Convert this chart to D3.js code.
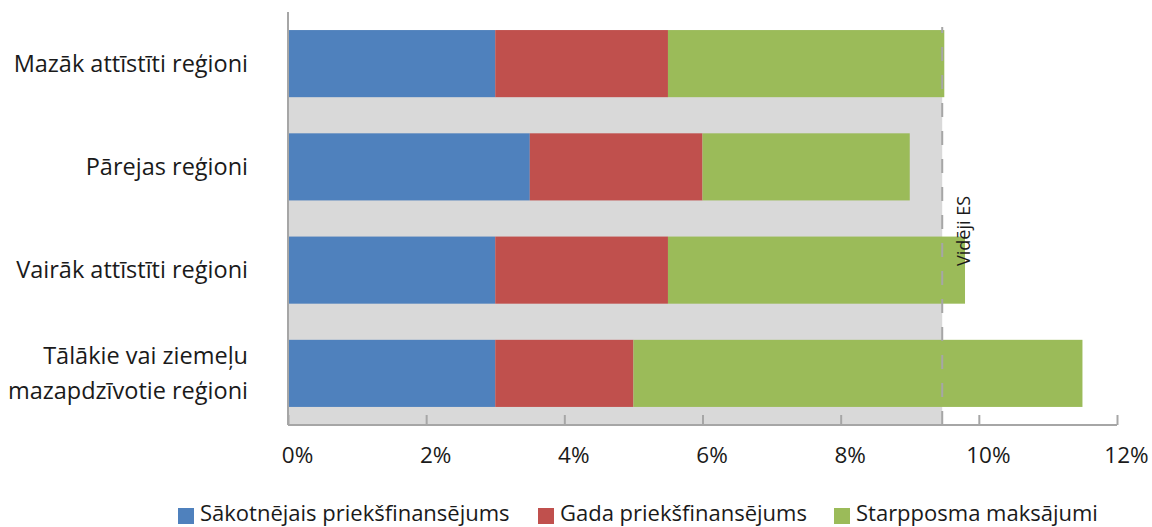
<!DOCTYPE html>
<html>
<head>
<meta charset="utf-8">
<script src="https://cdn.jsdelivr.net/npm/d3@7"></script>
<style>
  body { margin: 0; background: #fff; }
  text { font-family: 'Open Sans', sans-serif; fill: #1a1a1a; }
</style>
</head>
<body>
<script>
"use strict";
var width = 1152, height = 527;

// data
var categories = [
  ['Mazāk attīstīti reģioni'],
  ['Pārejas reģioni'],
  ['Vairāk attīstīti reģioni'],
  ['Tālākie vai ziemeļu', 'mazapdzīvotie reģioni']
];
var series_names = ['Sākotnējais priekšfinansējums', 'Gada priekšfinansējums', 'Starpposma maksājumi'];
var initial_prefin = [3.0, 3.5, 3.0, 3.0];
var annual_prefin = [2.5, 2.5, 2.5, 2.0];
var interim_pay = [4.0, 3.0, 4.3, 6.5];
var eu_average = 9.47;
var x_ticks = [0, 2, 4, 6, 8, 10, 12];
var colors = ['#4F81BD', '#C0504D', '#9BBB59'];

var plot_left = 288, plot_right = 1117, plot_top = 12, plot_bottom = 425;

var svg = d3.select('body').append('svg')
  .attr('width', width)
  .attr('height', height);

var x = d3.scaleLinear().domain([0, 12]).range([plot_left, plot_right]);
var y = d3.scaleBand()
  .domain(d3.range(categories.length))
  .range([plot_top, plot_bottom])
  .paddingInner(0.35)
  .paddingOuter(0.175);

// gray EU average band
svg.append('rect')
  .attr('x', x(0))
  .attr('y', y(0))
  .attr('width', x(eu_average) - x(0))
  .attr('height', plot_bottom - y(0))
  .style('fill', '#D9D9D9');

// stacked bars
var stack_values = [initial_prefin, annual_prefin, interim_pay];
categories.forEach(function(c, i) {
  var start = 0;
  for (var s = 0; s < stack_values.length; s++) {
    var v = stack_values[s][i];
    svg.append('rect')
      .attr('x', x(start))
      .attr('y', y(i))
      .attr('width', x(start + v) - x(start))
      .attr('height', y.bandwidth())
      .style('fill', colors[s]);
    start += v;
  }
});

// dashed average line
svg.append('line')
  .attr('x1', x(eu_average)).attr('x2', x(eu_average))
  .attr('y1', plot_bottom).attr('y2', 27)
  .style('stroke', '#A6A6A6')
  .style('stroke-width', 2)
  .style('stroke-dasharray', '14,14');

svg.append('text')
  .attr('transform', 'translate(' + (x(eu_average) + 28) + ',266) rotate(-90)')
  .attr('font-size', '18px')
  .text('Vidēji ES');

// axes
var axis_g = svg.append('g')
  .attr('transform', 'translate(0,' + plot_bottom + ')')
  .call(d3.axisBottom(x).tickValues(x_ticks).tickSize(-10).tickFormat(function(d) { return d + '%'; }));
axis_g.select('.domain').remove();
axis_g.append('line')
  .attr('x1', plot_left).attr('x2', plot_right)
  .attr('y1', 0).attr('y2', 0)
  .style('stroke', '#A6A6A6').style('stroke-width', 2);
axis_g.selectAll('.tick line').style('stroke', '#A6A6A6').style('stroke-width', 2);
axis_g.selectAll('.tick text')
  .attr('y', 38)
  .attr('dy', 0)
  .attr('dx', 9)
  .attr('font-size', '22.5px')
  .style('font-family', "'Open Sans', sans-serif")
  .style('fill', '#1a1a1a');

svg.append('line')
  .attr('x1', plot_left).attr('x2', plot_left)
  .attr('y1', plot_top).attr('y2', plot_bottom)
  .style('stroke', '#A6A6A6').style('stroke-width', 2);

// category labels
categories.forEach(function(lines, i) {
  var cy = y(i) + y.bandwidth() / 2;
  var line_h = 35;
  lines.forEach(function(l, j) {
    svg.append('text')
      .attr('x', 248)
      .attr('y', cy + (j - (lines.length - 1) / 2) * line_h)
      .attr('dy', '0.35em')
      .attr('text-anchor', 'end')
      .attr('font-size', '23.5px')
      .text(l);
  });
});

// legend
var legend_x = [178, 538, 834];
series_names.forEach(function(n, i) {
  svg.append('rect')
    .attr('x', legend_x[i]).attr('y', 508)
    .attr('width', 16).attr('height', 16)
    .style('fill', colors[i]);
  svg.append('text')
    .attr('x', legend_x[i] + 22)
    .attr('y', 521)
    .attr('font-size', '22px')
    .text(n);
});
</script>
</body>
</html>
